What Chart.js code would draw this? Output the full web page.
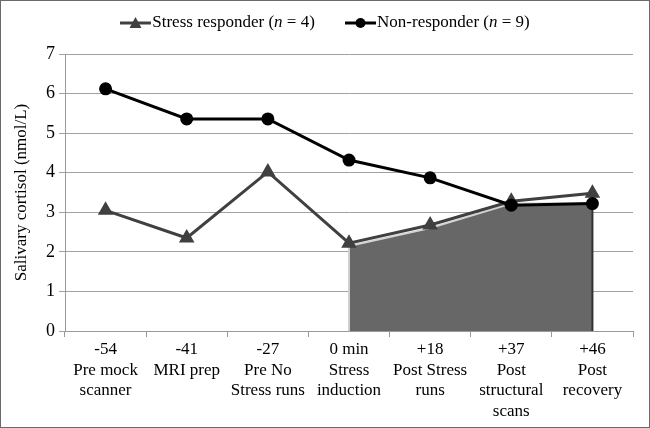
<!DOCTYPE html>
<html>
<head>
<meta charset="utf-8">
<script src="https://cdn.jsdelivr.net/npm/chart.js@4"></script>
<style>
  body { margin: 0; background: #fff; }
  #wrap { position: relative; width: 648px; height: 426px; border: 1px solid #6a6a6a; }
  #legend { position: absolute; top: 11px; left: 0; width: 648px; text-align: center;
    font-family: "Liberation Serif", serif; font-size: 17px; color: #000; }
  #legend span.item { display: inline-block; margin: 0 13px; }
  #legend svg { vertical-align: middle; margin-right: 1px; }
</style>
</head>
<body>
<div id="wrap">
  <canvas id="graf" width="648" height="426"></canvas>
  <div id="legend">
    <span class="item"><svg width="31" height="12"><line x1="0" y1="6" x2="31" y2="6" stroke="#404040" stroke-width="3"/><polygon points="15.5,0 21.5,11 9.5,11" fill="#404040"/></svg>Stress responder (<i>n</i> = 4)</span>
    <span class="item"><svg width="31" height="12"><line x1="0" y1="6" x2="31" y2="6" stroke="#000" stroke-width="3"/><circle cx="15.5" cy="6" r="5" fill="#000"/></svg>Non-responder (<i>n</i> = 9)</span>
  </div>
</div>
<script>
// time points (minutes relative to stress induction) and their labels
var timepoints = [
  ["-54", "Pre mock", "scanner"],
  ["-41", "MRI prep"],
  ["-27", "Pre No", "Stress runs"],
  ["0 min", "Stress", "induction"],
  ["+18", "Post Stress", "runs"],
  ["+37", "Post", "structural", "scans"],
  ["+46", "Post", "recovery"]
];
// salivary cortisol, nmol/L
var stressResponder = [3.05, 2.35, 4.02, 2.22, 2.68, 3.28, 3.48];
var nonResponder = [6.12, 5.36, 5.36, 4.32, 3.87, 3.18, 3.22];
// shaded region after stress induction
var shaded = [null, null, null, 2.15, 2.6, 3.22, 3.22];

// draws the left (light) and right (dark) edges of the shaded area
var areaEdges = {
  id: "areaEdges",
  afterDatasetDraw: function (chart, args) {
    if (args.index !== 2) return;
    var ctx = chart.ctx;
    var pts = args.meta.data;
    var bottom = chart.scales.y.getPixelForValue(0);
    var first = pts[3], last = pts[6];
    ctx.save();
    ctx.lineWidth = 2;
    ctx.strokeStyle = "#cfcfcf";
    ctx.beginPath(); ctx.moveTo(first.x, first.y); ctx.lineTo(first.x, bottom); ctx.stroke();
    ctx.strokeStyle = "#333";
    ctx.beginPath(); ctx.moveTo(last.x, last.y); ctx.lineTo(last.x, bottom); ctx.stroke();
    ctx.restore();
  }
};

Chart.defaults.font.family = "'Liberation Serif', serif";
Chart.defaults.color = "#000";

new Chart(document.getElementById("graf"), {
  type: "line",
  data: {
    labels: timepoints,
    datasets: [
      {
        label: "Non-responder (n = 9)",
        data: nonResponder,
        borderColor: "#000",
        backgroundColor: "#000",
        borderWidth: 3,
        pointStyle: "circle",
        pointRadius: 5,
        tension: 0,
        order: 0
      },
      {
        label: "Stress responder (n = 4)",
        data: stressResponder,
        borderColor: "#404040",
        backgroundColor: "#404040",
        borderWidth: 3,
        pointStyle: "triangle",
        pointRadius: 6,
        tension: 0,
        order: 1
      },
      {
        label: "shaded",
        data: shaded,
        borderColor: "#d4d4d4",
        borderWidth: 2,
        backgroundColor: "#676767",
        fill: "origin",
        pointRadius: 0,
        tension: 0,
        order: 2
      }
    ]
  },
  plugins: [areaEdges],
  options: {
    responsive: false,
    animation: false,
    layout: { padding: { top: 53, right: 16, left: 0, bottom: 0 } },
    plugins: {
      legend: { display: false },
      tooltip: { enabled: false }
    },
    scales: {
      x: {
        offset: true,
        afterFit: function (axis) { axis.height = 96; },
        grid: { offset: true, drawOnChartArea: false, drawTicks: true, tickLength: 6, color: "#9a9a9a" },
        border: { color: "#9a9a9a" },
        ticks: { font: { size: 17, lineHeight: 1.22 }, maxRotation: 0, autoSkip: false, padding: 2 }
      },
      y: {
        min: 0,
        max: 7,
        afterFit: function (axis) { axis.width = 64; },
        grid: { color: "#a0a0a0", tickLength: 6 },
        border: { color: "#9a9a9a" },
        ticks: { stepSize: 1, font: { size: 18 }, padding: 4 },
        title: { display: true, text: "Salivary cortisol (nmol/L)", font: { size: 17 }, padding: { top: 10, bottom: 0 } }
      }
    }
  }
});
</script>
</body>
</html>
